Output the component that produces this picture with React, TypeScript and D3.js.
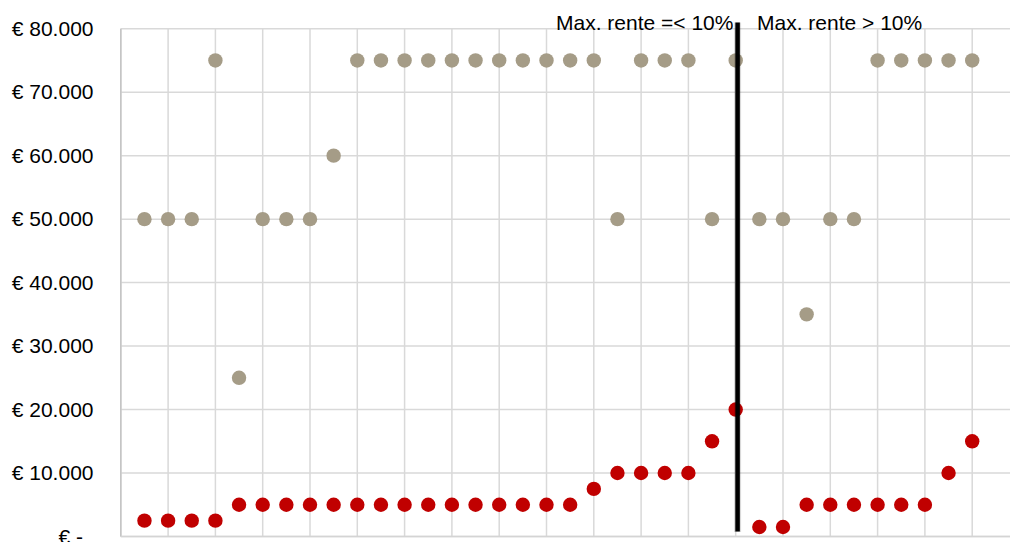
import React from "react";
import * as d3 from "d3";

const indices = d3.range(1, 37);
const interestValues = [
  2500, 2500, 2500, 2500, 5000, 5000, 5000, 5000, 5000, 5000, 5000, 5000,
  5000, 5000, 5000, 5000, 5000, 5000, 5000, 7500, 10000, 10000, 10000, 10000,
  15000, 20000, 1500, 1500, 5000, 5000, 5000, 5000, 5000, 5000, 10000, 15000,
];
const maxValues = [
  50000, 50000, 50000, 75000, 25000, 50000, 50000, 50000, 60000, 75000, 75000,
  75000, 75000, 75000, 75000, 75000, 75000, 75000, 75000, 75000, 50000, 75000,
  75000, 75000, 50000, 75000, 50000, 50000, 35000, 50000, 50000, 75000, 75000,
  75000, 75000, 75000,
];
const yTicks = [0, 10000, 20000, 30000, 40000, 50000, 60000, 70000, 80000];
const dividerAt = 26.08;
const leftLabel = "Max. rente =< 10%";
const rightLabel = "Max. rente > 10%";

const W = 1010;
const H = 542;
const FONT = "'Liberation Sans', Arial, sans-serif";

function fmt(v: number) {
  if (v === 0) return "€ -";
  return "€ " + d3.format(",")(v).replace(/,/g, ".");
}

export default function App() {
  const step = 23.65;
  const x = d3.scaleLinear().domain([0, 1]).range([120.8, 120.8 + step]);
  const y = d3.scaleLinear().domain([0, 80000]).range([536.5, 28.7]);
  const gridX = d3.range(0, 38, 2);

  return (
    <svg
      width={W}
      height={H}
      style={{ position: "absolute", left: 0, top: 0, background: "#fff" }}
      fontFamily={FONT}
    >
      {yTicks.map((t) => (
        <line
          key={"h" + t}
          x1={x(0)}
          x2={W}
          y1={y(t)}
          y2={y(t)}
          stroke="#d9d9d9"
          strokeWidth={1.5}
        />
      ))}
      {gridX.map((g) => (
        <line
          key={"v" + g}
          x1={x(g)}
          x2={x(g)}
          y1={y(80000)}
          y2={y(0)}
          stroke="#d9d9d9"
          strokeWidth={1.5}
        />
      ))}
      <line x1={x(0)} x2={x(0)} y1={y(80000)} y2={y(0)} stroke="#c4c4c4" strokeWidth={1.5} />
      <line x1={x(0)} x2={W} y1={y(0)} y2={y(0)} stroke="#d4d4d4" strokeWidth={1.5} />
      {yTicks.map((t) => (
        <text
          key={"t" + t}
          x={t === 0 ? 83 : 93.5}
          y={y(t) + 7.3}
          textAnchor="end"
          fontSize={21}
          fill="#000"
        >
          {fmt(t)}
        </text>
      ))}
      {indices.map((i, k) => (
        <circle key={"g" + i} cx={x(i)} cy={y(maxValues[k])} r={7.2} fill="#a59c87" />
      ))}
      {indices.map((i, k) => (
        <circle key={"r" + i} cx={x(i)} cy={y(interestValues[k])} r={7.2} fill="#c00000" />
      ))}
      <line
        x1={x(dividerAt)}
        x2={x(dividerAt)}
        y1={22.5}
        y2={532}
        stroke="#000"
        strokeOpacity={0.15}
        strokeWidth={7}
      />
      <line
        x1={x(dividerAt)}
        x2={x(dividerAt)}
        y1={22.5}
        y2={531.5}
        stroke="#000"
        strokeWidth={4.5}
      />
      <text x={556} y={29.5} fontSize={21} fill="#000">
        {leftLabel}
      </text>
      <text x={757} y={29.5} fontSize={21} fill="#000">
        {rightLabel}
      </text>
    </svg>
  );
}
